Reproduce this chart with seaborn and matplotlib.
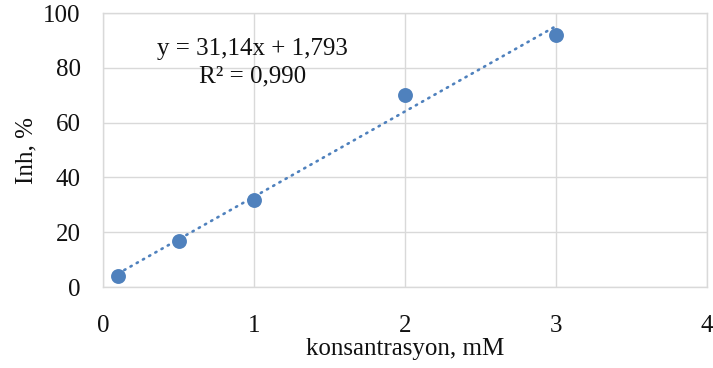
import numpy as np
import pandas as pd
import matplotlib
matplotlib.use("Agg")
import matplotlib.pyplot as plt
import seaborn as sns

# values
konsantrasyon = [0.1, 0.5, 1.0, 2.0, 3.0]
inhibisyon = [4.0, 16.9, 31.8, 70.2, 92.0]
slope = 31.14
intercept = 1.793
r2_text = "R² = 0,990"
eq_text = "y = 31,14x + 1,793"
x_ticks = [0, 1, 2, 3, 4]
y_ticks = [0, 20, 40, 60, 80, 100]

BLUE = "#4F81BD"
GRID = "#D9D9D9"
FS = 18

sns.set_theme(style="whitegrid")
plt.rcParams["font.family"] = ["Liberation Serif", "DejaVu Serif"]

df = pd.DataFrame({"konsantrasyon": konsantrasyon, "inh": inhibisyon})

fig = plt.figure(figsize=(7.13, 3.68), dpi=100)
ax = fig.add_axes([103 / 713, 1 - 287 / 368, 604 / 713, 274 / 368])

# trendline from the fitted equation, over the range of the data
xs = np.array([min(konsantrasyon), max(konsantrasyon)])
ax.plot(xs, slope * xs + intercept, color=BLUE, lw=1.9, ls=(0, (0.5, 2.2)),
        dash_capstyle="round", zorder=2)

sns.scatterplot(data=df, x="konsantrasyon", y="inh", ax=ax, color=BLUE,
                s=115, edgecolor=BLUE, linewidth=0, zorder=3, clip_on=False)

ax.set_xlim(0, 4)
ax.set_ylim(0, 100)
ax.set_xticks(x_ticks)
ax.set_yticks(y_ticks)
ax.grid(True, color=GRID, lw=1.0)
for s in ax.spines.values():
    s.set_color(GRID)
    s.set_linewidth(1.0)
ax.tick_params(axis="both", length=0, labelsize=FS, colors="#111111")
ax.tick_params(axis="x", pad=20)
ax.tick_params(axis="y", pad=16)

ax.set_xlabel("konsantrasyon, mM", fontsize=FS, labelpad=1, color="#111111")
ax.set_ylabel("Inh, %", fontsize=FS, labelpad=4, color="#111111")

ax.text(0.988, 87, eq_text, fontsize=FS, ha="center", va="center", color="#111111")
ax.text(0.988, 77, r2_text, fontsize=FS, ha="center", va="center", color="#111111")

fig.savefig("out.png", dpi=100)
